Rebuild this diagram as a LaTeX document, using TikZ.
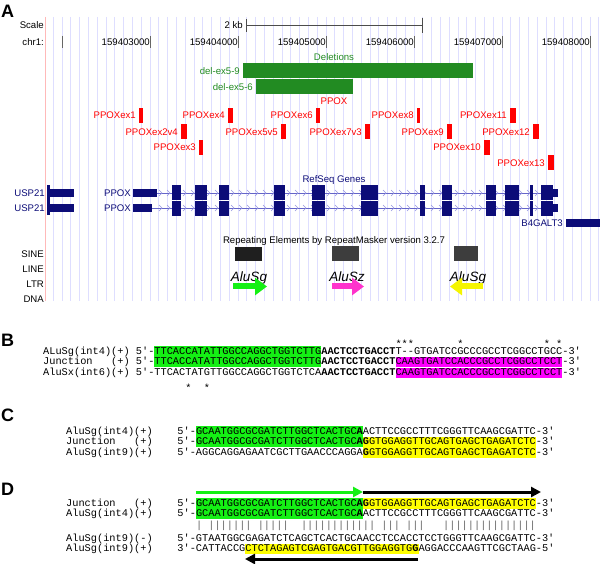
\documentclass[tikz,border=0pt]{standalone}
\usepackage{fontspec}
\setmainfont{Liberation Sans}
\newfontfamily\seqfont{Liberation Mono}
\usetikzlibrary{arrows.meta}
\definecolor{navy}{RGB}{12,12,120}
\definecolor{intron}{RGB}{100,100,200}
\definecolor{chevc}{RGB}{150,150,225}
\definecolor{gridc}{RGB}{222,222,255}
\definecolor{pinkc}{RGB}{255,185,185}
\definecolor{delgreen}{RGB}{34,139,34}
\definecolor{hlgreen}{RGB}{20,240,20}
\definecolor{hlyellow}{RGB}{255,255,0}
\definecolor{hlmag}{RGB}{255,0,255}
\definecolor{alumag}{RGB}{255,51,204}
\definecolor{aluyel}{RGB}{245,245,0}
\newcommand\seqhl[2]{{\fboxsep=0pt\colorbox{#1}{\rule[-2.6pt]{0pt}{10.7pt}#2}}}

\begin{document}
\begin{tikzpicture}[x=1pt,y=-1pt,
  lbl/.style={font=\fontsize{9.6}{11}\selectfont,inner sep=0pt},
  seq/.style={font=\seqfont\fontsize{10.3}{10.7}\selectfont,inner sep=0pt,anchor=base west},
  panel/.style={font=\fontsize{18}{18}\selectfont\bfseries,inner sep=0pt,anchor=west},
  alu/.style={line width=6pt,-{Triangle[length=12pt,width=17pt]}},
  darr/.style={line width=3pt,-{Triangle[length=10pt,width=10pt]}},
  chev/.style={chevc,line width=0.6pt}]
\fill[white] (0,0) rectangle (600,564);
\useasboundingbox (0,0) rectangle (600,564);

% panel A: genome browser
\node[panel] (pa) at (1,11.5) {A};
\begin{scope}
\clip (0,0) rectangle (600,301);
\foreach \k in {-11,...,51} \draw[gridc,line width=0.8pt] ({150+8.8*\k},17) -- ++(0,284);
\draw[pinkc,line width=0.8pt] (45.5,17) -- (45.5,301);
\node[lbl,anchor=base east] (scale) at (44,28.5) {Scale};
\node[lbl,anchor=base east] (kb) at (243,28.5) {2 kb};
\draw[black!70] (246,25) -- (422,25) (246,19) -- (246,32) (422,18) -- (422,33);
\node[lbl,anchor=base east] (chr) at (44,45.5) {chr1:};
\draw[black!60] (62,36) -- (62,48);
\foreach \x/\v in {150/159403000,238/159404000,326/159405000,414/159406000,502/159407000,590/159408000}
  {\draw[black!60] (\x,36) -- (\x,48); \node[lbl,anchor=base east] (n\v) at (\x,45.5) {\v};}
% deletions
\node[lbl,delgreen,anchor=base] (dels) at (334,60.5) {Deletions};
\fill[delgreen] (243,63) rectangle (473,78.5);
\fill[delgreen] (256,79.5) rectangle (353,94.5);
\node[lbl,delgreen,anchor=base east] (d59) at (240,74.5) {del-ex5-9};
\node[lbl,delgreen,anchor=base east] (d56) at (253,90.5) {del-ex5-6};
% PPOX exon amplicons
\node[lbl,red,anchor=base] (ppox) at (334,104.5) {PPOX};
\foreach \n/\t/\xa/\xb/\ya in {e1/PPOXex1/139/143/108,e4/PPOXex4/228/233/108,e6/PPOXex6/316/320/108,
  e8/PPOXex8/417/420/108,e11/PPOXex11/510/516/108,e2/PPOXex2v4/181/187/124.5,e5/PPOXex5v5/281/286/124.5,
  e7/PPOXex7v3/365/370/124.5,e9/PPOXex9/447/452/124.5,e12/PPOXex12/533/539/124.5,
  e3/PPOXex3/199/203/140,e10/PPOXex10/484/490/140,e13/PPOXex13/548/554/155.5}
  {\fill[red] (\xa,\ya) rectangle (\xb,\ya+15); \node[lbl,red,anchor=base east] (\n) at (\xa-3,\ya+11) {\t};}
% RefSeq genes
\node[lbl,navy,anchor=base] (refseq) at (334,182.5) {RefSeq Genes};
\foreach \r/\u in {193/157,208/152}{
  \draw[intron,line width=0.8pt] (\u,\r) -- (541,\r);
  \foreach \cx in {161,169,...,537} \draw[chev] (\cx-2,\r-3) -- (\cx+1,\r) -- (\cx-2,\r+3);
  \fill[navy] (133,\r-4) rectangle (\u,\r+4);
  \fill[navy] (50,\r-4) rectangle (74,\r+4);
  \fill[navy] (46.5,\r-7.5) rectangle (50,\r+7.5);
  \fill[navy] (553,\r-4) rectangle (558,\r+4);}
\foreach \a/\b in {172/181,195/207,219/229,274/285,312/325,361/378,420/425,442/452,486/496,505/519,530/533,541/553}
  {\fill[navy] (\a,185.5) rectangle (\b,200.5); \fill[navy] (\a,201) rectangle (\b,216);}
\node[lbl,navy,anchor=base east] (usp1) at (45,196.5) {USP21};
\node[lbl,navy,anchor=base east] (usp2) at (45,211.5) {USP21};
\node[lbl,navy,anchor=base east] (pp1) at (131,196.5) {PPOX};
\node[lbl,navy,anchor=base east] (pp2) at (131,211.5) {PPOX};
\fill[navy] (566,219) rectangle (600,227);
\node[lbl,navy,anchor=base east] (b4g) at (563,226.5) {B4GALT3};
% repeats
\node[lbl,anchor=base] (rmsk) at (334,243.5) {Repeating Elements by RepeatMasker version 3.2.7};
\foreach \t/\y in {SINE/257.5,LINE/272.5,LTR/287.5,DNA/302.5} \node[lbl,anchor=base east] (\t) at (44,\y) {\t};
\fill[black!88] (235,247) rectangle (262,261);
\fill[black!76] (332,246.5) rectangle (359,261);
\fill[black!76] (454,246.5) rectangle (478,261);
\node[font=\fontsize{13.5}{14}\selectfont\itshape,inner sep=0pt,anchor=base] (alu1) at (249,282) {AluSg};
\node[font=\fontsize{13.5}{14}\selectfont\itshape,inner sep=0pt,anchor=base] (alu2) at (347,282) {AluSz};
\node[font=\fontsize{13.5}{14}\selectfont\itshape,inner sep=0pt,anchor=base] (alu3) at (468,282) {AluSg};
\draw[alu,hlgreen] (233,286.5) -- (267,286.5);
\draw[alu,alumag] (332,286.5) -- (364,286.5);
\draw[alu,aluyel] (483,286.5) -- (450,286.5);
\end{scope}

% panel B
\node[panel] (pb) at (1,340) {B};
\node[seq] (bs1) at (395.3,347) {***~~~~~~~*~~~~~~~~~~~~~*~*};
\node[seq] (b1) at (43,354.2) {ALuSg(int4)(+) 5'-\seqhl{hlgreen}{TTCACCATATTGGCCAGGCTGGTCTTG}\textbf{AACTCCTGACCT}T-{}-GTGATCCGCCCGCCTCGGCCTGCC-3'};
\node[seq] (b2) at (43,364.9) {Junction~~~(+) 5'-\seqhl{hlgreen}{TTCACCATATTGGCCAGGCTGGTCTTG}\textbf{AACTCCTGACCT}\seqhl{hlmag}{CAAGTGATCCACCCGCCTCGGCCTCCT}-3'};
\node[seq] (b3) at (43,375.6) {AluSx(int6)(+) 5'-TTCACTATGTTGGCCAGGCTGGTCTCA\textbf{AACTCCTGACCT}\seqhl{hlmag}{CAAGTGATCCACCCGCCTCGGCCTCCT}-3'};
\node[seq] (bs2) at (185.1,391) {*~~*};

% panel C
\node[panel] (pc) at (1,415) {C};
\node[seq] (c1) at (66,434) {AluSg(int4)(+)~~~~5'-\seqhl{hlgreen}{GCAATGGCGCGATCTTGGCTCACTGC\textbf{A}}ACTTCCGCCTTTCGGGTTCAAGCGATTC-3'};
\node[seq] (c2) at (66,444.7) {Junction~~~(+)~~~~5'-\seqhl{hlgreen}{GCAATGGCGCGATCTTGGCTCACTGC\textbf{A}}\seqhl{hlyellow}{\textbf{G}GTGGAGGTTGCAGTGAGCTGAGATCTC}-3'};
\node[seq] (c3) at (66,455.4) {AluSg(int9)(+)~~~~5'-AGGCAGGAGAATCGCTTGAACCCAGGA\seqhl{hlyellow}{\textbf{G}GTGGAGGTTGCAGTGAGCTGAGATCTC}-3'};

% panel D
\node[panel] (pd) at (1,489) {D};
\coordinate (ga) at (195.8,492);
\coordinate (gb) at (363,492);
\coordinate (kb1) at (541,492);
\coordinate (kc) at (418,559);
\coordinate (kd) at (245,559);
\draw[darr,hlgreen] (ga) -- (gb);
\draw[darr,black] (gb) -- (kb1);
\node[seq] (d1) at (66,506) {Junction~~~(+)~~~~5'-\seqhl{hlgreen}{GCAATGGCGCGATCTTGGCTCACTGC\textbf{A}}\seqhl{hlyellow}{\textbf{G}GTGGAGGTTGCAGTGAGCTGAGATCTC}-3'};
\node[seq] (d2) at (66,516.7) {AluSg(int4)(+)~~~~5'-\seqhl{hlgreen}{GCAATGGCGCGATCTTGGCTCACTGC\textbf{A}}ACTTCCGCCTTTCGGGTTCAAGCGATTC-3'};
\node[seq,black!60] (bars) at (195.8,528.5) {|~|||||||~|||||~~||||||||||||~|||~|||~~~|||||||||||||||};
\node[seq] (d3) at (66,541) {AluSg(int9)(-)~~~~5'-GTAATGGCGAGATCTCAGCTCACTGCAACCTCCACCTCCTGGGTTCAAGCGATTC-3'};
\node[seq] (d4) at (66,551.7) {AluSg(int9)(+)~~~~3'-CATTACCG\seqhl{hlyellow}{CTCTAGAGTCGAGTGACGTTGGAGGTG\textbf{G}}AGGACCCAAGTTCGCTAAG-5'};
\draw[darr,black] (kc) -- (kd);
\end{tikzpicture}
\end{document}
